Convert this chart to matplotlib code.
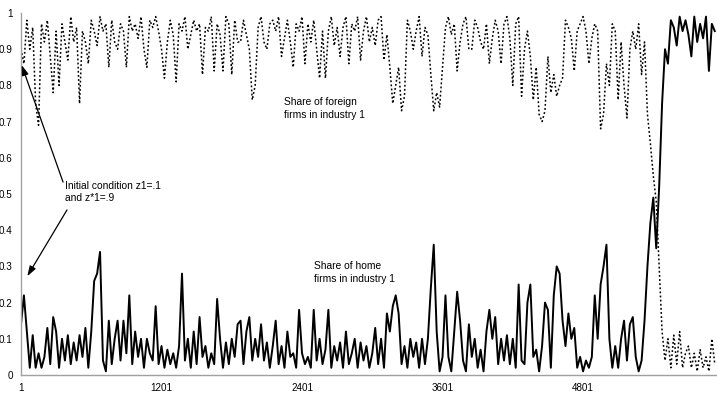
import matplotlib.pyplot as plt
import numpy as np

# Читаем значения с картинки: шаг 25 периодов
period_step = 25

home_share = [
    0.14, 0.22, 0.12, 0.02, 0.11, 0.02, 0.06, 0.02, 0.05, 0.13,
    0.03, 0.16, 0.12, 0.02, 0.10, 0.04, 0.11, 0.03, 0.09, 0.04,
    0.11, 0.05, 0.13, 0.02, 0.12, 0.26, 0.28, 0.34, 0.04, 0.01,
    0.15, 0.03, 0.10, 0.15, 0.04, 0.15, 0.06, 0.22, 0.03, 0.12,
    0.05, 0.10, 0.02, 0.10, 0.06, 0.04, 0.19, 0.03, 0.08, 0.02,
    0.07, 0.03, 0.06, 0.02, 0.08, 0.28, 0.04, 0.10, 0.02, 0.12,
    0.03, 0.16, 0.05, 0.08, 0.02, 0.06, 0.03, 0.21, 0.10, 0.02,
    0.09, 0.03, 0.10, 0.05, 0.14, 0.15, 0.03, 0.12, 0.16, 0.04,
    0.10, 0.05, 0.14, 0.04, 0.09, 0.02, 0.08, 0.15, 0.03, 0.08,
    0.02, 0.12, 0.05, 0.06, 0.02, 0.18, 0.06, 0.03, 0.05, 0.02,
    0.18, 0.04, 0.10, 0.03, 0.07, 0.18, 0.02, 0.08, 0.04, 0.09,
    0.02, 0.12, 0.03, 0.06, 0.10, 0.02, 0.09, 0.04, 0.08, 0.02,
    0.06, 0.13, 0.03, 0.10, 0.02, 0.17, 0.12, 0.19, 0.22, 0.17,
    0.03, 0.08, 0.02, 0.10, 0.05, 0.09, 0.02, 0.10, 0.03, 0.10,
    0.24, 0.36, 0.12, 0.01, 0.05, 0.22, 0.05, 0.01, 0.12, 0.23,
    0.15, 0.04, 0.01, 0.14, 0.05, 0.10, 0.02, 0.07, 0.01, 0.12,
    0.18, 0.10, 0.16, 0.03, 0.10, 0.04, 0.11, 0.03, 0.10, 0.02,
    0.25, 0.04, 0.03, 0.20, 0.25, 0.05, 0.07, 0.01, 0.08, 0.20,
    0.18, 0.02, 0.22, 0.30, 0.28, 0.15, 0.08, 0.17, 0.10, 0.13,
    0.02, 0.05, 0.01, 0.04, 0.02, 0.05, 0.22, 0.10, 0.25, 0.30,
    0.36, 0.10, 0.02, 0.08, 0.02, 0.10, 0.15, 0.04, 0.14, 0.16,
    0.05, 0.01, 0.04, 0.15, 0.30, 0.42, 0.49, 0.35, 0.52, 0.75,
    0.90, 0.86, 0.98, 0.96, 0.91, 0.99, 0.95, 0.98, 0.94, 0.88,
    0.99, 0.92, 0.97, 0.93, 0.99, 0.84, 0.97, 0.95,
]

foreign_share = [
    0.90, 0.86, 0.98, 0.90, 0.96, 0.75, 0.69, 0.97, 0.92, 0.98,
    0.88, 0.78, 0.95, 0.80, 0.97, 0.92, 0.87, 0.99, 0.92, 0.96,
    0.75, 0.95, 0.92, 0.86, 0.98, 0.95, 0.91, 0.99, 0.95, 0.97,
    0.85, 0.98, 0.92, 0.90, 0.97, 0.95, 0.85, 0.99, 0.95, 0.97,
    0.93, 0.99, 0.90, 0.85, 0.98, 0.96, 0.99, 0.95, 0.90, 0.82,
    0.92, 0.98, 0.94, 0.81, 0.97, 0.95, 0.99, 0.90, 0.94, 0.98,
    0.95, 0.97, 0.83, 0.96, 0.95, 0.99, 0.84, 0.97, 0.94, 0.84,
    0.99, 0.97, 0.83, 0.98, 0.92, 0.92, 0.98, 0.94, 0.90, 0.76,
    0.80, 0.96, 0.99, 0.92, 0.90, 0.97, 0.98, 0.95, 0.99, 0.88,
    0.93, 0.98, 0.92, 0.85, 0.97, 0.95, 0.99, 0.86, 0.97, 0.92,
    0.98, 0.90, 0.82, 0.95, 0.82, 0.95, 0.99, 0.91, 0.96, 0.88,
    0.96, 0.99, 0.86, 0.97, 0.95, 0.99, 0.87, 0.95, 0.99, 0.92,
    0.96, 0.91, 0.98, 0.99, 0.87, 0.94, 0.85, 0.75, 0.80, 0.85,
    0.73, 0.77, 0.98, 0.95, 0.90, 0.95, 0.99, 0.88, 0.96, 0.94,
    0.83, 0.73, 0.78, 0.74, 0.85, 0.96, 0.99, 0.94, 0.97, 0.84,
    0.92, 0.97, 0.99, 0.90, 0.90, 0.98, 0.96, 0.92, 0.90, 0.97,
    0.86, 0.93, 0.98, 0.95, 0.86, 0.97, 0.99, 0.93, 0.80, 0.97,
    0.99, 0.77, 0.90, 0.95, 0.88, 0.76, 0.85, 0.72, 0.70, 0.73,
    0.88, 0.78, 0.83, 0.77, 0.80, 0.82, 0.98, 0.96, 0.93, 0.84,
    0.95, 0.97, 0.99, 0.95, 0.86, 0.93, 0.97, 0.95, 0.68, 0.72,
    0.86, 0.80, 0.97, 0.95, 0.76, 0.92, 0.80, 0.71, 0.90, 0.95,
    0.90, 0.97, 0.83, 0.92, 0.72, 0.64, 0.55, 0.48, 0.30, 0.12,
    0.04, 0.10, 0.02, 0.11, 0.03, 0.12, 0.02, 0.06, 0.08, 0.02,
    0.06, 0.01, 0.07, 0.02, 0.05, 0.01, 0.10, 0.03,
]

x_ticks = [1, 1201, 2401, 3601, 4801]
y_ticks = [0, 0.1, 0.2, 0.3, 0.4, 0.5, 0.6, 0.7, 0.8, 0.9, 1.0]
y_tick_labels = ["0", "0.1", "0.2", "0.3", "0.4", "0.5", "0.6", "0.7", "0.8", "0.9", "1"]

periods = 1 + period_step * np.arange(len(home_share))

plt.rcParams['font.family'] = ['Liberation Sans', 'DejaVu Sans']

fig = plt.figure(figsize=(7.17, 3.97), dpi=100)
ax = fig.add_axes([21 / 717, 22 / 397, 696 / 717, 362 / 397])

# Доля иностранных фирм — пунктир
ax.plot(periods, foreign_share, color="black", linewidth=1.1,
        linestyle=(0, (1.2, 1.5)))
# Доля отечественных фирм — сплошная
ax.plot(periods, home_share, color="black", linewidth=1.4)

ax.set_xlim(1, 5945)
ax.set_ylim(0, 1)
ax.set_xticks(x_ticks)
ax.set_xticklabels([str(t) for t in x_ticks])
ax.set_yticks(y_ticks)
ax.set_yticklabels(y_tick_labels)
ax.tick_params(length=0, labelsize=7.1, pad=6)

for side in ["top", "right"]:
    ax.spines[side].set_visible(False)
for side in ["left", "bottom"]:
    ax.spines[side].set_color("#a0a0a0")
    ax.spines[side].set_linewidth(1)

# Подписи
ax.text(2247, 0.736, "Share of foreign\nfirms in industry 1", fontsize=7.4,
        va="center", ha="left", linespacing=1.3)
ax.text(2503, 0.283, "Share of home\nfirms in industry 1", fontsize=7.4,
        va="center", ha="left", linespacing=1.3)
ax.text(377, 0.505, "Initial condition z1=.1\nand z*1=.9", fontsize=7.4,
        va="center", ha="left", linespacing=1.3)

arrow = dict(arrowstyle="-|>,head_length=0.6,head_width=0.2", color="black",
             lw=0.9, shrinkA=0, shrinkB=0)
ax.annotate("", xy=(7, 0.856), xytext=(360, 0.533), arrowprops=arrow)
ax.annotate("", xy=(55, 0.273), xytext=(394, 0.456), arrowprops=arrow)

fig.savefig("out.png", dpi=100)
plt.close(fig)
